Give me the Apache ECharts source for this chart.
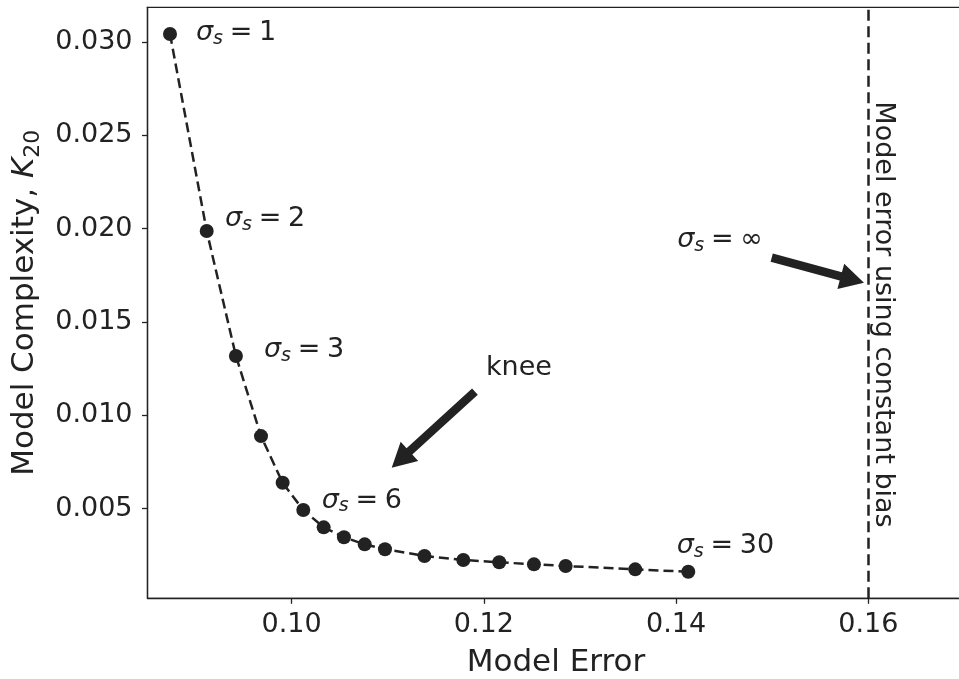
<!DOCTYPE html>
<html><head><meta charset="utf-8">
<script src="https://cdn.jsdelivr.net/npm/echarts@6/dist/echarts.min.js"></script>
<style>html,body{margin:0;padding:0;background:#fff}#c{width:959px;height:679px}</style>
</head><body><div id="c"></div>
<script>
// ---- data ----
const modelError = [0.08734, 0.09116, 0.09420, 0.09681, 0.09906, 0.10121, 0.10333, 0.10544, 0.10760, 0.10971, 0.11382, 0.11786, 0.12160, 0.12521, 0.12851, 0.13575, 0.14127];
const modelComplexity = [0.03043, 0.01988, 0.01318, 0.00889, 0.00639, 0.00493, 0.00400, 0.00347, 0.00309, 0.00283, 0.00247, 0.00225, 0.00213, 0.00202, 0.00193, 0.00175, 0.00162];
const xTicks = [0.10, 0.12, 0.14, 0.16];
const yTicks = [0.005, 0.010, 0.015, 0.020, 0.025, 0.030];
const constantBiasError = 0.16;
const sigmaLabelText = ['1', '2', '3', '6', '30', '\u221e'];
const sigmaLabelAt = [[0.09004, 0.03048], [0.09306, 0.02052], [0.09712, 0.01348], [0.10312, 0.00544], [0.14006, 0.00301], [0.14012, 0.01939]];
const kneeText = 'knee';
const kneeTextAt = [0.12022, 0.01254];
const arrowTails = [[0.11907, 0.01127], [0.14995, 0.01845]];
const arrowTips = [[0.11041, 0.00720], [0.15955, 0.01711]];

const INK = '#222222';
const FONT = 'DejaVu Sans';

const chart = echarts.init(document.getElementById('c'), null, {renderer: 'canvas'});
const points = modelError.map((x, i) => [x, modelComplexity[i]]);

chart.setOption({
  animation: false,
  backgroundColor: '#ffffff',
  grid: {left: 147.5, width: 816.9, top: 7.3, height: 591, show: true, borderColor: INK, borderWidth: 1.3,
         containLabel: false, outerBoundsMode: 'none'},
  xAxis: {
    type: 'value', min: 0.085, max: 0.17,
    name: 'Model Error', nameLocation: 'middle', nameGap: 49,
    nameTextStyle: {fontFamily: FONT, fontSize: 31, color: INK},
    axisLine: {show: true, onZero: false, lineStyle: {color: INK, width: 1.3}},
    axisTick: {show: true, customValues: xTicks, length: 5.5, lineStyle: {color: INK, width: 1.3}},
    axisLabel: {customValues: xTicks, margin: 13, fontFamily: FONT, fontSize: 27, color: INK, formatter: v => v.toFixed(2)},
    splitLine: {show: false}
  },
  yAxis: {
    type: 'value', min: 0.0002, max: 0.03186,
    name: '{t|Model Complexity, }{k|K}{s|20}', nameLocation: 'middle', nameGap: 98, nameRotate: 90,
    nameTextStyle: {fontFamily: FONT, fontSize: 31, color: INK, rich: {
      t: {fontFamily: FONT, fontSize: 31, color: INK, lineHeight: 39},
      k: {fontFamily: FONT, fontSize: 31, fontStyle: 'italic', color: INK, lineHeight: 39},
      s: {fontFamily: FONT, fontSize: 22, color: INK, lineHeight: 22, verticalAlign: 'bottom'}
    }},
    axisLine: {show: true, onZero: false, lineStyle: {color: INK, width: 1.3}},
    axisTick: {show: true, customValues: yTicks, length: 5.5, lineStyle: {color: INK, width: 1.3}},
    axisLabel: {customValues: yTicks, margin: 15, padding: [6, 0, 0, 0], fontFamily: FONT, fontSize: 27, color: INK, formatter: v => v.toFixed(3)},
    splitLine: {show: false}
  },
  series: [{
    type: 'line', data: points, symbol: 'circle', symbolSize: 14,
    itemStyle: {color: INK},
    lineStyle: {color: INK, width: 2.5, type: [10, 5]},
    markLine: {
      silent: true, symbol: ['none', 'none'], label: {show: false},
      lineStyle: {color: INK, width: 2.5, type: [11, 5.5]},
      data: [{xAxis: constantBiasError}]
    }
  }]
});

function px(p) { return chart.convertToPixel({gridIndex: 0}, p); }

function arrowPoints(p0, p1, shaftW, headW, headL) {
  const dx = p1[0] - p0[0], dy = p1[1] - p0[1];
  const len = Math.hypot(dx, dy);
  const ux = dx / len, uy = dy / len, nx = -uy, ny = ux;
  const bx = p1[0] - ux * headL, by = p1[1] - uy * headL;
  const hs = shaftW / 2, hh = headW / 2;
  return [
    [p0[0] + nx * hs, p0[1] + ny * hs], [bx + nx * hs, by + ny * hs], [bx + nx * hh, by + ny * hh],
    [p1[0], p1[1]],
    [bx - nx * hh, by - ny * hh], [bx - nx * hs, by - ny * hs], [p0[0] - nx * hs, p0[1] - ny * hs]
  ];
}

const sigmaRich = {
  g: {fontFamily: FONT, fontSize: 27, fontStyle: 'italic', fill: INK, lineHeight: 31},
  s: {fontFamily: FONT, fontSize: 19, fontStyle: 'italic', fill: INK, lineHeight: 19, verticalAlign: 'bottom'},
  t: {fontFamily: FONT, fontSize: 27, fill: INK, lineHeight: 31}
};

const graphics = [];
sigmaLabelText.forEach((v, i) => {
  const p = px(sigmaLabelAt[i]);
  graphics.push({
    type: 'text', x: p[0], y: p[1], silent: true,
    style: {text: '{g|\u03c3}{s|s}{t|\u2005=\u2005' + v + '}', rich: sigmaRich, align: 'left', verticalAlign: 'middle', fill: INK}
  });
});
const kp = px(kneeTextAt);
graphics.push({type: 'text', x: kp[0], y: kp[1], silent: true,
  style: {text: kneeText, fontFamily: FONT, fontSize: 27, fill: INK, align: 'left', verticalAlign: 'middle'}});
arrowTails.forEach((t, i) => {
  graphics.push({type: 'polygon', silent: true,
    shape: {points: arrowPoints(px(t), px(arrowTips[i]), 8.5, 26, 24)}, style: {fill: INK}});
});
// vertical label along the constant-bias line
const lp = px([constantBiasError, 0.01]);
graphics.push({type: 'text', x: lp[0] + 14.7, y: 314.5, rotation: -Math.PI / 2, silent: true,
  style: {text: 'Model error using constant bias', fontFamily: FONT, fontSize: 27, fill: INK, align: 'center', verticalAlign: 'middle'}});

chart.setOption({graphic: graphics});
</script>
</body></html>
